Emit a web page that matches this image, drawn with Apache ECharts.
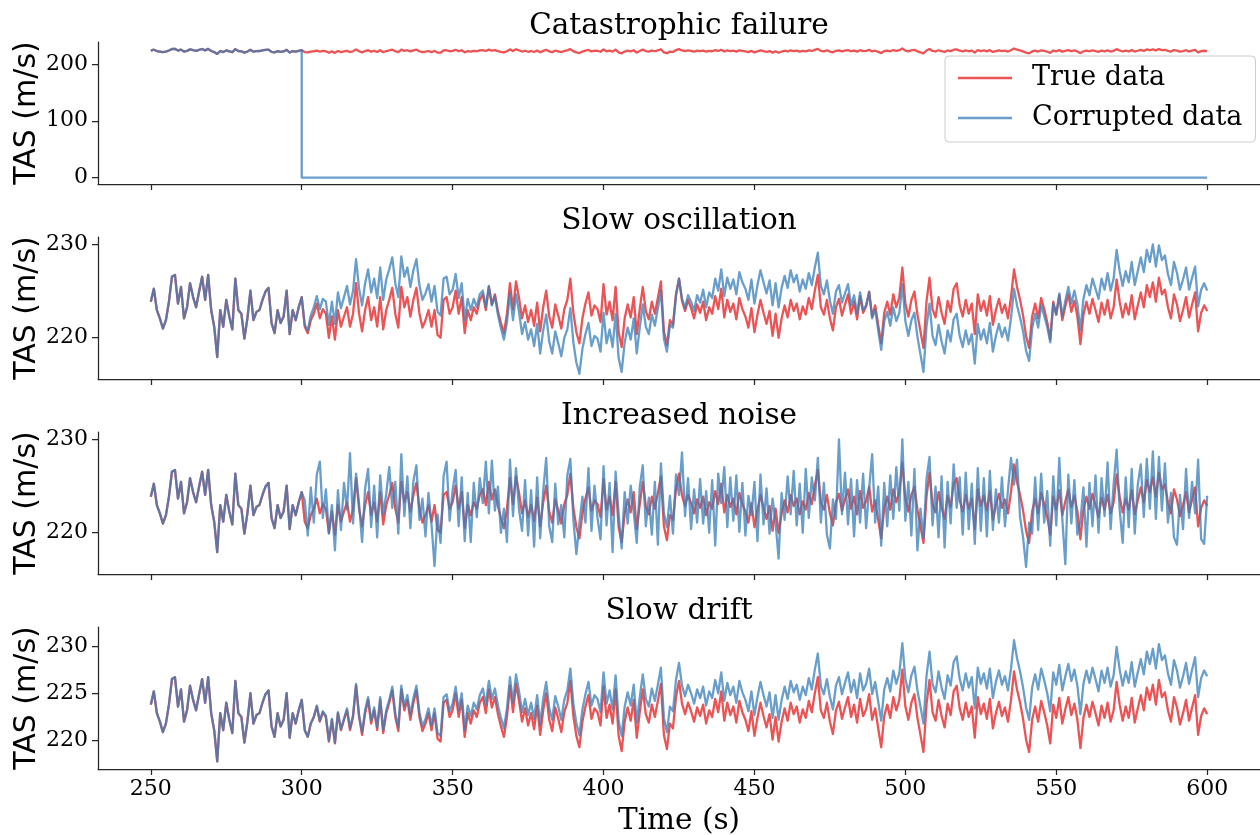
<!DOCTYPE html>
<html>
<head>
<meta charset="utf-8">
<title>TAS sensor failure modes</title>
<script src="https://cdn.jsdelivr.net/npm/echarts@6/dist/echarts.min.js"></script>
<style>
  html, body { margin: 0; padding: 0; background: #ffffff; }
  #chart { width: 1260px; height: 835px; }
</style>
</head>
<body>
<div id="chart"></div>
<script>
// Sampling of the recordings: one value per second from 250 s to 600 s
const startTime = 250;
const sampleStep = 1;
const failureTime = 300;
const endTime = 600;
const failedValue = 0;

const panelTitles = ['Catastrophic failure', 'Slow oscillation', 'Increased noise', 'Slow drift'];
const legendNames = ['True data', 'Corrupted data'];
const timeTicks = [250, 300, 350, 400, 450, 500, 550, 600];
const tasTicksFailure = [0, 100, 200];
const tasTicksOscillation = [220, 230];
const tasTicksNoise = [220, 230];
const tasTicksDrift = [220, 225, 230];

// True airspeed (m/s), 250 s .. 600 s
const trueTas = [
  223.8, 225.2, 222.9, 222.0, 220.9, 221.8, 223.8, 226.5, 226.7, 223.6,
  225.4, 222.0, 223.2, 225.8, 224.3, 223.2, 224.9, 226.5, 224.0, 226.7,
  222.9, 221.1, 217.8, 222.9, 221.1, 224.0, 222.2, 220.8, 226.3, 222.9,
  222.5, 219.8, 222.0, 225.0, 221.8, 222.7, 222.9, 224.0, 224.9, 225.3,
  221.5, 220.4, 222.9, 221.5, 222.2, 225.0, 220.3, 222.9, 221.8, 223.2,
  224.3, 221.1, 220.4, 221.8, 222.5, 223.6, 222.0, 223.0, 222.5, 219.9,
  222.2, 219.7, 222.9, 221.1, 222.2, 223.2, 221.1, 222.5, 225.8, 222.5,
  220.6, 222.9, 224.3, 221.8, 223.2, 221.1, 224.3, 220.8, 222.9, 224.0,
  225.3, 222.5, 221.0, 225.4, 223.2, 224.3, 222.2, 224.0, 225.3, 222.5,
  221.0, 221.8, 222.9, 221.1, 222.9, 220.2, 219.9, 224.0, 224.3, 222.5,
  223.2, 225.0, 222.5, 224.3, 220.4, 222.9, 221.8, 223.2, 222.5, 224.0,
  224.6, 222.9, 225.4, 223.5, 224.6, 222.8, 221.5, 220.4, 222.5, 225.8,
  223.0, 226.0, 224.2, 222.0, 223.4, 221.6, 222.9, 221.2, 223.7, 220.6,
  223.2, 225.0, 222.2, 221.0, 223.5, 222.3, 220.9, 223.0, 224.0, 226.3,
  222.6, 220.5, 219.3, 222.0, 223.6, 224.8, 222.3, 223.4, 223.0, 221.6,
  225.7, 222.4, 223.8, 221.8, 225.4, 220.5, 218.9, 222.0, 223.5, 222.1,
  224.3, 220.3, 223.0, 225.4, 222.8, 221.9, 223.8, 222.5, 224.2, 226.0,
  220.6, 219.1, 221.8, 221.3, 224.6, 226.3, 223.9, 222.8, 224.0, 223.1,
  222.0, 223.5, 222.6, 223.8, 221.8, 223.2, 222.5, 224.4, 223.0, 225.2,
  222.1, 224.0, 222.7, 223.6, 221.9, 224.2, 223.0, 222.2, 221.0, 223.1,
  220.5, 222.4, 224.0, 222.6, 221.4, 222.8, 220.1, 222.5, 219.9, 222.0,
  223.4, 222.1, 224.0, 222.8, 223.6, 221.9, 223.3, 222.4, 224.2, 223.0,
  225.0, 226.7, 223.2, 222.4, 224.0, 222.0, 220.7, 223.2, 224.1, 222.3,
  223.5, 224.6, 222.5, 223.8, 221.9, 224.4, 222.6, 223.3, 224.9, 222.2,
  223.4, 221.3, 219.3, 222.6, 223.8, 222.4, 224.6, 223.2, 224.3, 227.5,
  223.6, 222.2, 224.0, 224.9, 222.4, 220.6, 218.8, 223.8, 226.4, 223.0,
  222.1, 224.3, 222.6, 221.4, 223.9, 222.7, 225.2, 225.8, 223.4, 222.2,
  224.0, 222.5, 223.6, 220.3, 224.6, 222.8, 223.9, 222.3, 224.4, 221.3,
  222.9, 224.1, 222.6, 223.5, 222.0, 224.3, 227.3, 225.4, 224.0, 222.3,
  220.1, 218.8, 222.2, 223.6, 222.0, 224.2, 223.0, 221.6, 219.7, 223.8,
  222.4, 224.5, 221.8, 223.3, 224.6, 222.7, 223.9, 222.2, 219.2, 222.4,
  223.8, 222.5, 224.1, 222.9, 221.6, 223.7, 222.4, 224.0, 222.0, 223.2,
  226.2, 223.8, 222.1, 223.6, 222.4, 224.5, 221.9, 223.4, 224.8, 223.2,
  225.6, 224.3, 225.9, 223.8, 226.4, 224.6, 225.1, 223.2, 222.0, 224.6,
  223.5, 221.7, 222.9, 224.3, 222.1, 223.5, 224.8, 220.6, 222.6, 223.4,
  222.8
];

// Corrupted readings from the failure onset, 300 s .. 600 s
const slowOscillationTas = [
  224.3, 221.3, 220.7, 222.3, 223.2, 224.4, 223.0, 224.1, 223.8, 221.3,
  223.8, 221.4, 224.8, 223.1, 224.3, 225.5, 223.5, 225.0, 228.4, 225.2,
  223.4, 225.8, 227.3, 224.8, 226.3, 224.2, 227.5, 224.0, 226.2, 227.3,
  228.6, 225.8, 224.3, 228.7, 226.5, 227.5, 225.4, 227.2, 228.4, 225.6,
  224.0, 224.7, 225.7, 223.8, 225.5, 222.7, 222.3, 226.3, 226.5, 224.6,
  225.1, 226.8, 224.2, 225.8, 221.8, 224.1, 222.9, 224.1, 223.2, 224.6,
  225.0, 223.2, 225.5, 223.4, 224.4, 222.4, 220.9, 219.7, 221.6, 224.7,
  221.8, 224.6, 222.7, 220.3, 221.6, 219.7, 220.8, 219.0, 221.4, 218.2,
  220.7, 222.4, 219.5, 218.2, 220.6, 219.3, 217.9, 219.9, 220.8, 223.1,
  219.4, 217.2, 216.0, 218.7, 220.3, 221.5, 219.0, 220.1, 219.8, 218.4,
  222.6, 219.3, 220.8, 218.9, 222.5, 217.7, 216.2, 219.4, 221.0, 219.7,
  222.0, 218.2, 221.0, 223.5, 221.1, 220.3, 222.4, 221.2, 223.1, 225.0,
  219.8, 218.4, 221.3, 221.0, 224.4, 226.3, 224.1, 223.1, 224.5, 223.8,
  222.8, 224.5, 223.7, 225.1, 223.2, 224.8, 224.2, 226.3, 225.0, 227.3,
  224.4, 226.4, 225.2, 226.2, 224.6, 227.0, 225.9, 225.2, 224.0, 226.2,
  223.6, 225.6, 227.2, 225.9, 224.7, 226.1, 223.4, 225.8, 223.2, 225.3,
  226.6, 225.3, 227.2, 225.9, 226.7, 224.9, 226.2, 225.2, 226.9, 225.6,
  227.5, 229.1, 225.5, 224.6, 226.1, 223.9, 222.5, 224.9, 225.6, 223.7,
  224.7, 225.7, 223.4, 224.5, 222.5, 224.8, 222.9, 223.4, 224.8, 222.0,
  223.0, 220.7, 218.6, 221.7, 222.7, 221.2, 223.2, 221.7, 222.6, 225.7,
  221.7, 220.1, 221.8, 222.6, 220.0, 218.1, 216.2, 221.1, 223.6, 220.1,
  219.1, 221.3, 219.5, 218.2, 220.7, 219.5, 221.9, 222.5, 220.1, 218.9,
  220.7, 219.2, 220.3, 217.1, 221.4, 219.7, 220.8, 219.3, 221.5, 218.4,
  220.1, 221.4, 220.0, 221.0, 219.6, 222.0, 225.2, 223.4, 222.1, 220.6,
  218.5, 217.4, 220.9, 222.5, 221.0, 223.4, 222.3, 221.1, 219.4, 223.6,
  222.4, 224.7, 222.2, 223.9, 225.4, 223.6, 225.0, 223.5, 220.7, 224.1,
  225.6, 224.5, 226.3, 225.2, 224.1, 226.3, 225.1, 226.9, 225.0, 226.3,
  229.4, 227.1, 225.5, 227.1, 225.9, 228.1, 225.6, 227.1, 228.6, 227.0,
  229.4, 228.1, 230.0, 227.6, 229.9, 228.3, 228.8, 226.8, 225.6, 228.1,
  226.9, 225.1, 226.2, 227.5, 225.1, 226.4, 227.6, 223.3, 225.1, 225.8,
  225.0
];

const increasedNoiseTas = [
  224.3, 223.4, 219.6, 224.8, 221.0, 226.2, 227.6, 221.5, 224.6, 219.8,
  222.9, 218.0, 224.5, 220.2, 225.3, 222.4, 228.5, 220.9, 226.3, 223.0,
  218.9, 224.7, 226.8, 220.5, 225.0, 219.4, 226.1, 221.9, 224.1, 227.0,
  222.6, 225.4, 219.8, 228.4, 221.7, 226.0, 220.4, 225.5, 227.2, 221.3,
  223.6, 219.5, 224.2, 220.8, 216.3, 221.9, 218.8, 226.0, 227.6, 221.2,
  224.5, 226.7, 220.6, 225.9, 219.0, 224.2, 218.9, 225.3, 221.6, 225.8,
  223.1, 227.6, 222.0, 227.7, 222.3, 224.9, 219.9, 222.5, 218.9, 227.8,
  221.7, 226.9, 222.4, 220.1, 225.6, 219.6, 224.5, 218.4, 225.9, 219.3,
  224.4, 228.0, 220.6, 218.9, 225.2, 220.8, 222.9, 219.4, 226.1, 227.9,
  221.3, 217.6, 220.9, 223.8, 221.0, 226.9, 220.1, 225.0, 221.5, 219.2,
  227.1, 220.7, 225.3, 217.8, 226.5, 221.9, 218.2, 224.3, 220.9, 225.0,
  222.1, 218.8, 224.9, 227.2, 220.6, 223.7, 219.7, 225.4, 218.6, 227.4,
  222.0, 220.5, 223.9, 219.8, 226.2, 224.0, 228.6, 221.7, 225.8, 220.3,
  224.6, 221.0, 225.7, 220.9, 224.4, 219.9, 225.6, 218.5, 226.3, 223.1,
  227.0, 220.5, 225.9, 221.2, 226.1, 220.0, 225.3, 219.6, 223.9, 221.8,
  225.4, 219.0, 226.2, 220.8, 224.7, 219.8, 223.6, 221.0, 217.1, 224.2,
  221.3, 226.0, 221.9, 226.6, 220.7, 225.2, 219.9, 226.8, 221.5, 225.9,
  223.4, 228.0, 221.0, 225.3, 219.7, 218.2, 223.5, 221.4, 230.0, 221.9,
  226.4, 220.8, 225.7, 219.5, 225.6, 221.0, 226.3, 220.4, 224.7, 228.4,
  221.0, 224.9, 218.5, 225.3, 220.6, 226.1, 221.4, 227.0, 222.3, 230.0,
  221.2, 225.4, 219.6, 226.8, 218.0, 222.5, 219.3, 225.7, 228.1, 220.7,
  224.9, 219.4, 226.0, 218.3, 225.4, 220.9, 227.3, 222.6, 225.9, 219.7,
  226.4, 220.3, 225.2, 218.7, 226.9, 220.1, 225.8, 219.5, 226.6, 220.2,
  224.6, 221.0, 225.9, 220.6, 224.5, 228.0, 225.1, 227.8, 221.6, 219.4,
  216.2, 221.0, 219.8, 225.9, 220.2, 226.3, 221.0, 224.4, 218.5, 226.0,
  220.7, 228.0, 221.4, 216.5, 226.2, 220.9, 225.6, 219.7, 221.2, 224.8,
  218.4, 225.3, 220.6, 226.1, 219.9, 225.8, 221.7, 227.5, 220.3, 225.1,
  228.9, 222.4, 218.8, 225.9, 220.5, 226.8, 219.8, 225.1, 227.3, 221.6,
  227.9, 222.5, 228.7, 221.4, 228.1, 222.3, 227.4, 221.0, 224.2, 219.4,
  218.6, 224.0, 220.3, 226.8, 221.5, 225.4, 222.0, 227.8, 219.2, 218.7,
  223.9
];

const slowDriftTas = [
  224.3, 221.1, 220.4, 221.8, 222.5, 223.7, 222.1, 223.1, 222.6, 220.0,
  222.3, 219.8, 223.0, 221.2, 222.3, 223.4, 221.3, 222.7, 226.0, 222.7,
  220.9, 223.2, 224.6, 222.1, 223.5, 221.4, 224.6, 221.1, 223.2, 224.3,
  225.7, 222.9, 221.4, 225.8, 223.6, 224.8, 222.7, 224.5, 225.8, 223.0,
  221.5, 222.3, 223.4, 221.6, 223.4, 220.8, 220.5, 224.6, 224.9, 223.1,
  223.9, 225.7, 223.2, 225.0, 221.1, 223.7, 222.6, 224.0, 223.3, 224.8,
  225.5, 223.8, 226.3, 224.4, 225.5, 223.7, 222.4, 221.3, 223.4, 226.7,
  224.0, 227.0, 225.2, 223.0, 224.4, 222.7, 224.0, 222.3, 224.8, 221.7,
  224.4, 226.2, 223.4, 222.2, 224.7, 223.6, 222.2, 224.3, 225.3, 227.6,
  223.9, 221.8, 220.6, 223.3, 224.9, 226.2, 223.7, 224.8, 224.4, 223.0,
  227.2, 223.9, 225.3, 223.3, 226.9, 222.1, 220.5, 223.6, 225.1, 223.7,
  225.9, 221.9, 224.6, 227.0, 224.4, 223.6, 225.5, 224.2, 225.9, 227.7,
  222.4, 220.9, 223.6, 223.1, 226.4, 228.2, 225.8, 224.7, 225.9, 225.0,
  223.9, 225.4, 224.5, 225.7, 223.7, 225.2, 224.5, 226.4, 225.0, 227.2,
  224.2, 226.1, 224.8, 225.7, 224.0, 226.3, 225.1, 224.3, 223.1, 225.2,
  222.7, 224.6, 226.2, 224.8, 223.6, 225.1, 222.4, 224.8, 222.2, 224.3,
  225.7, 224.4, 226.3, 225.1, 225.9, 224.3, 225.7, 224.8, 226.6, 225.4,
  227.5, 229.2, 225.7, 224.9, 226.5, 224.6, 223.3, 225.8, 226.7, 224.9,
  226.1, 227.2, 225.1, 226.4, 224.5, 227.1, 225.3, 226.0, 227.6, 224.9,
  226.2, 224.1, 222.1, 225.4, 226.6, 225.2, 227.4, 226.0, 227.1, 230.3,
  226.5, 225.1, 226.9, 227.8, 225.3, 223.6, 221.8, 226.8, 229.4, 226.0,
  225.1, 227.3, 225.6, 224.4, 226.9, 225.8, 228.3, 228.9, 226.5, 225.3,
  227.1, 225.6, 226.7, 223.4, 227.7, 226.0, 227.1, 225.5, 227.6, 224.5,
  226.2, 227.4, 225.9, 226.8, 225.3, 227.6, 230.6, 228.7, 227.3, 225.6,
  223.5, 222.2, 225.6, 227.0, 225.4, 227.6, 226.4, 225.0, 223.1, 227.2,
  225.9, 228.0, 225.3, 226.8, 228.1, 226.3, 227.5, 225.8, 222.8, 226.0,
  227.4, 226.1, 227.7, 226.5, 225.2, 227.4, 226.1, 227.7, 225.7, 226.9,
  229.9, 227.5, 225.8, 227.3, 226.1, 228.3, 225.7, 227.2, 228.6, 227.0,
  229.4, 228.1, 229.7, 227.6, 230.2, 228.5, 229.0, 227.1, 225.9, 228.5,
  227.4, 225.6, 226.8, 228.2, 226.0, 227.5, 228.8, 224.6, 226.6, 227.4,
  226.8
];

// ---- series assembly -------------------------------------------------------
const times = trueTas.map((_, i) => startTime + i * sampleStep);
const healthyCount = (failureTime - startTime) / sampleStep;
const toPairs = vals => vals.map((v, i) => [times[i], v]);

const trueSeriesData = toPairs(trueTas);
const withHealthyPart = after => toPairs(trueTas.slice(0, healthyCount).concat(after));
const failureSeriesData = toPairs(trueTas.slice(0, healthyCount + 1))
  .concat([[failureTime, failedValue], [endTime, failedValue]]);

const corruptedPanels = [
  failureSeriesData,
  withHealthyPart(slowOscillationTas),
  withHealthyPart(increasedNoiseTas),
  withHealthyPart(slowDriftTas)
];

// ---- layout & style --------------------------------------------------------
const serif = 'DejaVu Serif';
const sans = 'DejaVu Sans';
const spineColor = '#262626';
const trueColor = 'rgba(228, 26, 28, 0.75)';
const corruptColor = 'rgba(55, 126, 184, 0.75)';

const gridLeft = 98;
const gridWidth = 1162;
const gridTops = [42, 237, 432, 627];
const gridHeight = 142;
const titleTops = [11, 206, 401, 596];
const xRange = [232.5, 617.5];
const yRanges = [[-11.4, 238.8], [215.44, 230.8], [215.44, 230.8], [217.0, 232.0]];
const yTicks = [tasTicksFailure, tasTicksOscillation, tasTicksNoise, tasTicksDrift];

function lineSeries(name, color, idx, data) {
  return {
    type: 'line', name, data,
    xAxisIndex: idx, yAxisIndex: idx,
    showSymbol: false, symbol: 'none',
    silent: true, animation: false,
    emphasis: { disabled: true },
    lineStyle: { color, width: 2.3, join: 'round' },
    itemStyle: { color }
  };
}

const series = [];
gridTops.forEach((_, i) => {
  series.push(lineSeries(legendNames[0], trueColor, i, trueSeriesData));
  series.push(lineSeries(legendNames[1], corruptColor, i, corruptedPanels[i]));
});

const option = {
  backgroundColor: '#ffffff',
  animation: false,
  title: panelTitles.map((t, i) => ({
    text: t,
    left: gridLeft + gridWidth / 2,
    top: titleTops[i],
    textAlign: 'center',
    padding: 0,
    textStyle: { fontFamily: serif, fontSize: 29.5, fontWeight: 'normal', color: '#000' }
  })),
  legend: {
    data: legendNames,
    orient: 'vertical',
    left: 945, top: 56,
    icon: 'rect',
    itemWidth: 54, itemHeight: 2.5, itemGap: 10,
    padding: [7, 13, 9, 13],
    borderColor: '#cccccc', borderWidth: 1, borderRadius: 4,
    backgroundColor: 'rgba(255,255,255,0.8)',
    selectedMode: false,
    textStyle: { fontFamily: serif, fontSize: 27, color: '#000', lineHeight: 30, padding: [0, 0, 0, 15] }
  },
  grid: gridTops.map(top => ({
    left: gridLeft, top, width: gridWidth, height: gridHeight,
    containLabel: false, outerBoundsMode: 'none'
  })),
  xAxis: gridTops.map((_, i) => ({
    gridIndex: i, type: 'value',
    min: xRange[0], max: xRange[1],
    axisLine: { show: true, onZero: false, lineStyle: { color: spineColor, width: 1.25 } },
    axisTick: { show: true, length: 6, lineStyle: { color: spineColor, width: 1.25 }, customValues: timeTicks },
    axisLabel: { show: i === 3, customValues: timeTicks, margin: 9, fontFamily: serif, fontSize: 22, color: '#000' },
    splitLine: { show: false },
    name: i === 3 ? 'Time (s)' : '',
    nameLocation: 'middle', nameGap: 37, nameMoveOverlap: false,
    nameTextStyle: { fontFamily: serif, fontSize: 29.5, color: '#000' }
  })),
  yAxis: gridTops.map((_, i) => ({
    gridIndex: i, type: 'value',
    min: yRanges[i][0], max: yRanges[i][1],
    axisLine: { show: true, onZero: false, lineStyle: { color: spineColor, width: 1.25 } },
    axisTick: { show: true, length: 6, lineStyle: { color: spineColor, width: 1.25 }, customValues: yTicks[i] },
    axisLabel: { show: true, customValues: yTicks[i], margin: 10, fontFamily: serif, fontSize: 22, color: '#000' },
    splitLine: { show: false },
    name: 'TAS (m/s)',
    nameLocation: 'middle', nameRotate: 90, nameGap: 56, nameMoveOverlap: false,
    nameTextStyle: { fontFamily: sans, fontSize: 30, color: '#000' }
  })),
  series
};

const chart = echarts.init(document.getElementById('chart'), null, { renderer: 'canvas' });
chart.setOption(option);
</script>
</body>
</html>
